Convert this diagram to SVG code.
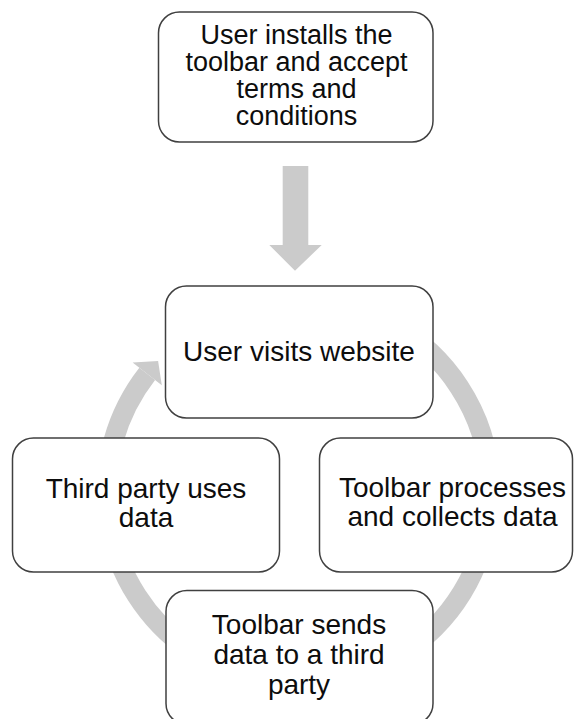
<svg xmlns="http://www.w3.org/2000/svg" width="574" height="719" viewBox="0 0 574 719">
  <style>
    .box { fill: #ffffff; stroke: #404040; stroke-width: 1.5; }
    .lbl { font-family: "Liberation Sans", Arial, sans-serif; font-size: 28px; fill: #0d0d0d; text-anchor: middle; }
    .lbl-s { font-size: 27px; }
    .arc { fill: none; stroke: #cbcbcb; stroke-width: 20; }
    .arrowfill { fill: #cbcbcb; stroke: none; }
  </style>
  <rect width="574" height="719" fill="#ffffff"/>
  <g id="connectors">
    <path class="arrowfill" d="M282.7,166 L308.3,166 L308.3,245 L321.7,245 L295,270.7 L269.3,245 L282.7,245 Z"/>
    <path class="arc" d="M394.5,325.7 A192,192 0 0 1 408.6,649.3"/>
    <path class="arc" d="M188.4,649.3 A192,192 0 0 1 147.2,373.8"/>
    <path class="arrowfill" d="M132.6,362.4 L158.1,361.1 L161.8,385.2 Z"/>
  </g>
  <g id="node-install">
    <rect class="box" x="158.5" y="12" width="274.5" height="130" rx="21"/>
    <text class="lbl lbl-s" x="296.5" y="44">User installs the</text>
    <text class="lbl lbl-s" x="296.5" y="71">toolbar and accept</text>
    <text class="lbl lbl-s" x="296.5" y="98">terms and</text>
    <text class="lbl lbl-s" x="296.5" y="125">conditions</text>
  </g>
  <g id="node-visit">
    <rect class="box" x="165.5" y="286" width="267.5" height="132" rx="21"/>
    <text class="lbl" x="299" y="361">User visits website</text>
  </g>
  <g id="node-third-party">
    <rect class="box" x="12.5" y="438" width="267" height="134" rx="21"/>
    <text class="lbl" x="146" y="498">Third party uses</text>
    <text class="lbl" x="146" y="527">data</text>
  </g>
  <g id="node-process">
    <rect class="box" x="319.5" y="438" width="253" height="134" rx="21"/>
    <text class="lbl" x="452.5" y="497">Toolbar processes</text>
    <text class="lbl" x="452.5" y="526">and collects data</text>
  </g>
  <g id="node-send">
    <rect class="box" x="166" y="590.5" width="267" height="134" rx="21"/>
    <text class="lbl" x="299" y="634">Toolbar sends</text>
    <text class="lbl" x="299" y="664">data to a third</text>
    <text class="lbl" x="299" y="694">party</text>
  </g>
</svg>
